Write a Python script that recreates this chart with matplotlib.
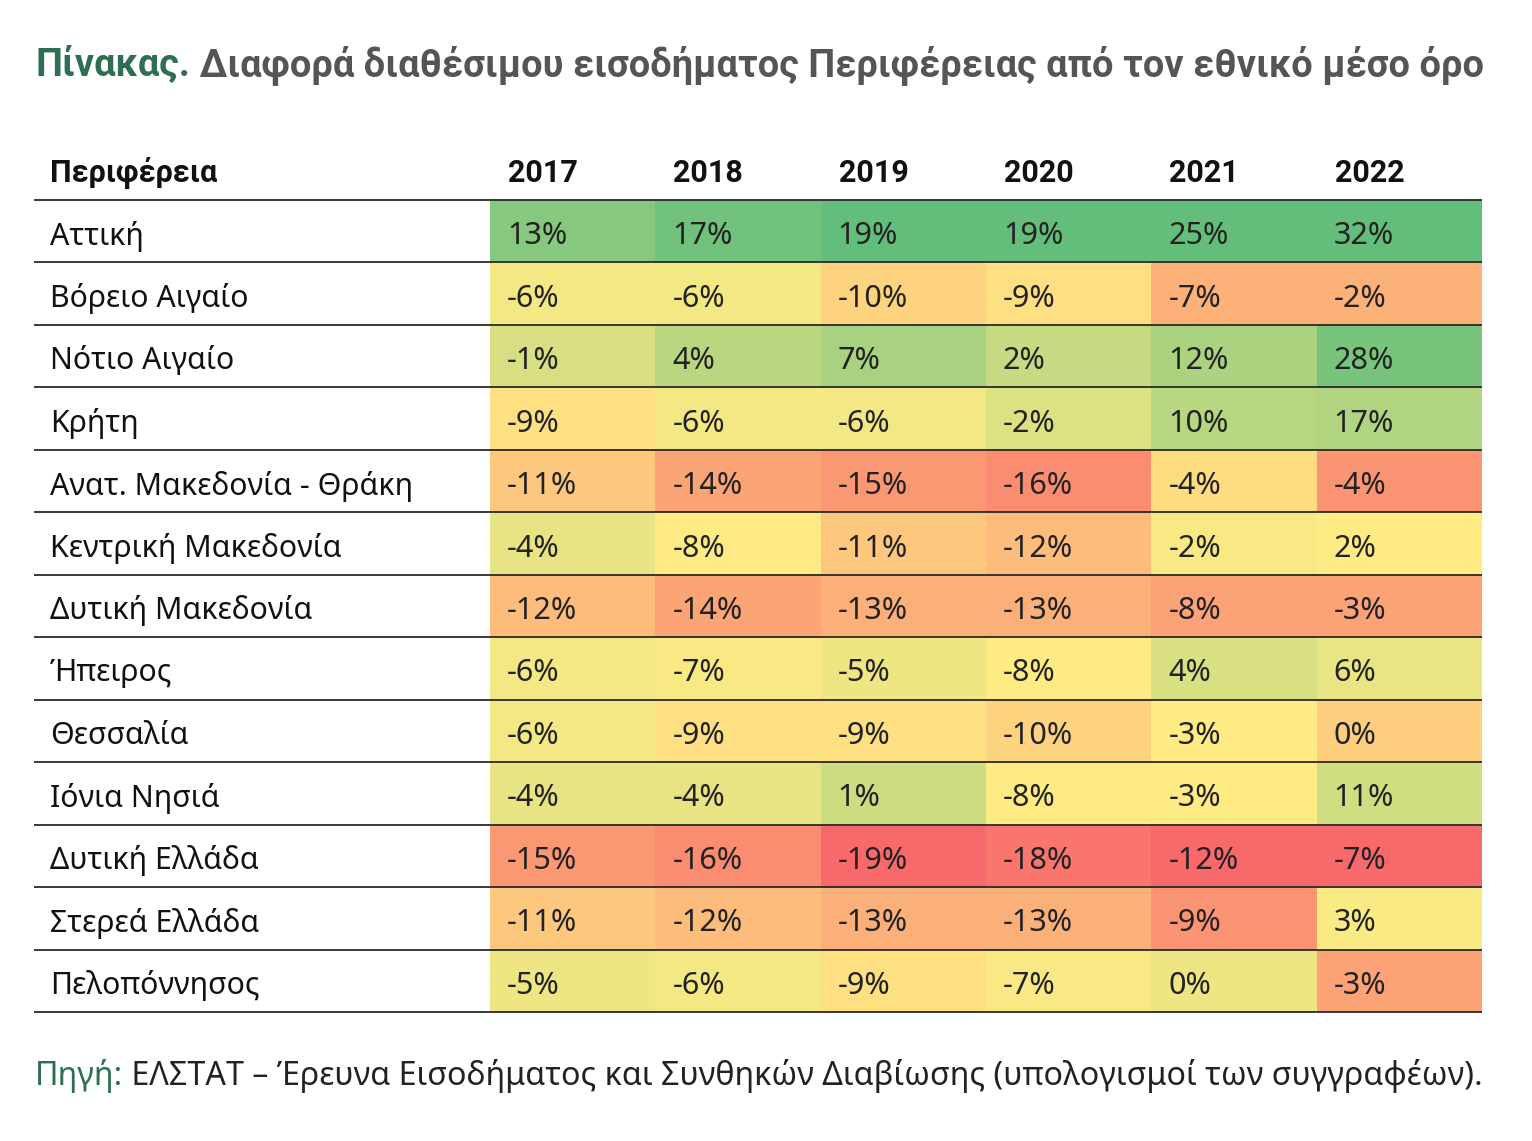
import numpy as np
import matplotlib
matplotlib.use("Agg")
import matplotlib.pyplot as plt
from matplotlib.patches import Rectangle

# data
regions = ["Αττική", "Βόρειο Αιγαίο", "Νότιο Αιγαίο", "Κρήτη",
           "Ανατ. Μακεδονία - Θράκη", "Κεντρική Μακεδονία", "Δυτική Μακεδονία",
           "Ήπειρος", "Θεσσαλία", "Ιόνια Νησιά", "Δυτική Ελλάδα",
           "Στερεά Ελλάδα", "Πελοπόννησος"]
years = ["2017", "2018", "2019", "2020", "2021", "2022"]
v2017 = [13, -6, -1, -9, -11, -4, -12, -6, -6, -4, -15, -11, -5]
v2018 = [17, -6, 4, -6, -14, -8, -14, -7, -9, -4, -16, -12, -6]
v2019 = [19, -10, 7, -6, -15, -11, -13, -5, -9, 1, -19, -13, -9]
v2020 = [19, -9, 2, -2, -16, -12, -13, -8, -10, -8, -18, -13, -7]
v2021 = [25, -7, 12, 10, -4, -2, -8, 4, -3, -3, -12, -9, 0]
v2022 = [32, -2, 28, 17, -4, 2, -3, 6, 0, 11, -7, 3, -3]

title_lead = "Πίνακας."
title_rest = " Διαφορά διαθέσιμου εισοδήματος Περιφέρειας από τον εθνικό μέσο όρο"
source_lead = "Πηγή:"
source_rest = " ΕΛΣΤΑΤ – Έρευνα Εισοδήματος και Συνθηκών Διαβίωσης (υπολογισμοί των συγγραφέων)."

values = np.array([v2017, v2018, v2019, v2020, v2021, v2022]).T  # rows x cols

# colour scale: red - yellow (median) - green, like a spreadsheet 3-colour scale
RED = np.array([0xF8, 0x69, 0x6B]) / 255
YEL = np.array([0xFF, 0xEB, 0x84]) / 255
GRN = np.array([0x63, 0xBE, 0x7B]) / 255
groups = [[0, 1, 2, 3], [4], [5]]

colors = np.zeros(values.shape + (3,))
for g in groups:
    block = values[:, g]
    lo, mid, hi = block.min(), np.percentile(block, 50), block.max()
    for j in g:
        for i in range(values.shape[0]):
            v = values[i, j]
            if v <= mid:
                t = (v - lo) / (mid - lo)
                colors[i, j] = RED + t * (YEL - RED)
            else:
                t = (v - mid) / (hi - mid)
                colors[i, j] = YEL + t * (GRN - YEL)

W, H = 1532, 1141
fig = plt.figure(figsize=(W / 100, H / 100), dpi=100)
ax = fig.add_axes([0, 0, 1, 1])
ax.set_xlim(0, W)
ax.set_ylim(H, 0)
ax.axis("off")

font = "Noto Sans"
bold_font = "Roboto"
green = "#2F6E50"
gray = "#555555"

x_left, x_right = 34, 1482
x_cells = 490
col_w = (x_right - x_cells) / len(years)
y_top = 200
row_h = (1012 - y_top) / len(regions)

# cells
for i in range(len(regions)):
    yc = y_top + (i + 0.5) * row_h + 5
    for j in range(len(years)):
        ax.add_patch(Rectangle((x_cells + j * col_w, y_top + i * row_h), col_w, row_h,
                               facecolor=colors[i, j], edgecolor="none", zorder=1))
        ax.text(x_cells + j * col_w + 17, yc, f"{values[i, j]}%", fontsize=22,
                family=font, color="#222222", va="center", ha="left", zorder=3)
    ax.text(50, yc, regions[i], fontsize=21.8, family=font,
            color="#111111", va="center", ha="left", zorder=3)

# lines
for i in range(len(regions) + 1):
    y = y_top + i * row_h
    ax.plot([x_left, x_right], [y, y], color="#2a2a2a", lw=1.3, zorder=4,
            solid_capstyle="butt")

# header
ax.text(50, 173, "Περιφέρεια", fontsize=22, family=bold_font, weight="bold",
        color="#111111", va="center", ha="left")
for j, yr in enumerate(years):
    ax.text(x_cells + j * col_w + 18, 173, yr, fontsize=22, family=bold_font,
            weight="bold", color="#111111", va="center", ha="left")

# title
ty = 65
tsize = 27.4
t1 = ax.text(35, ty, title_lead, fontsize=tsize, family=bold_font, weight="bold",
             color=green, va="center", ha="left")
fig.canvas.draw()
bb = t1.get_window_extent()
x2 = ax.transData.inverted().transform((bb.x1, 0))[0]
ax.text(x2, ty, title_rest, fontsize=tsize, family=bold_font, weight="bold",
        color=gray, va="center", ha="left")

# source
sy = 1076
s1 = ax.text(35, sy, source_lead, fontsize=23.2, family=font,
             color=green, va="center", ha="left")
fig.canvas.draw()
bb = s1.get_window_extent()
x2 = ax.transData.inverted().transform((bb.x1, 0))[0]
ax.text(x2, sy, source_rest, fontsize=23.2, family=font,
        color="#222222", va="center", ha="left")

fig.savefig("out.png", dpi=100, facecolor="white")
